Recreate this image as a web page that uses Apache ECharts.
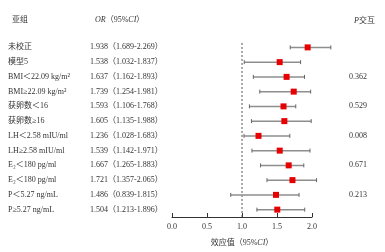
<!DOCTYPE html>
<html><head><meta charset="utf-8">
<script src="https://cdn.jsdelivr.net/npm/echarts@6/dist/echarts.min.js"></script>
<style>html,body{margin:0;padding:0;background:#fff}#c{width:385px;height:252px}</style>
</head><body><div id="c"></div>
<script>
const subgroups = ['未校正','模型5','BMI＜22.09 kg/m²','BMI≥22.09 kg/m²','获卵数＜16','获卵数≥16','LH＜2.58 mIU/ml','LH≥2.58 mIU/ml','E₂＜180 pg/ml','E₂＜180 pg/ml','P＜5.27 ng/mL','P≥5.27 ng/mL'];
const orValues = [1.938,1.538,1.637,1.739,1.593,1.605,1.236,1.539,1.667,1.721,1.486,1.504];
const ciLower = [1.689,1.032,1.162,1.254,1.106,1.135,1.028,1.142,1.265,1.357,0.839,1.213];
const ciUpper = [2.269,1.837,1.893,1.981,1.768,1.988,1.683,1.971,1.883,2.065,1.815,1.896];
const pInteraction = ['','','0.362','','0.529','','0.008','','0.671','','0.213',''];
const xTicks = [0, 0.5, 1.0, 1.5, 2.0];
const refLine = 1.0;

const FONT = '"Liberation Serif", "Noto Sans CJK SC", serif';
const TXT = '#333';
const rows = subgroups.map((s,i)=>i);
const orText = orValues.map((v,i)=> v.toFixed(3)+'（'+ciLower[i].toFixed(3)+'-'+ciUpper[i].toFixed(3)+'）');
const base = {fontFamily:FONT,fontSize:8,color:TXT,fontWeight:'normal'};

const chart = echarts.init(document.getElementById('c'), null, {renderer:'canvas'});
chart.setOption({
  animation:false,
  backgroundColor:'#fff',
  title:[
    {left:7, top:11, text:'{a|亚组}{b|OR}{c|（95%}{b|CI}{c|）}',
     textStyle:{fontWeight:'normal', rich:{
       a:Object.assign({},base,{width:83}),
       b:Object.assign({},base,{fontStyle:'italic'}),
       c:base}}},
    {left:349, top:12, text:'{b|P}{c|交互}',
     textStyle:{fontWeight:'normal', rich:{
       b:Object.assign({},base,{fontStyle:'italic'}),
       c:base}}}
  ],
  grid:{left:172, right:73, top:40, bottom:32.5, containLabel:false},
  xAxis:{type:'value', min:xTicks[0], max:xTicks[xTicks.length-1], interval:0.5,
    splitLine:{show:false},
    axisLine:{show:true, onZero:false, lineStyle:{color:'#333', width:1}},
    axisTick:{show:true, inside:true, length:4, lineStyle:{color:'#333'}},
    axisLabel:{fontFamily:FONT, fontSize:8, color:TXT, margin:6, formatter:v=>v.toFixed(1)},
    name:'效应值（95%{i|CI}）', nameLocation:'middle', nameGap:22,
    nameTextStyle:{fontFamily:FONT, fontSize:8, color:TXT,
      rich:{i:Object.assign({},base,{fontStyle:'italic'})}}},
  yAxis:[
    {type:'value', min:0, max:12, inverse:true, show:false},
    {type:'category', data:rows, inverse:true, position:'left',
      axisLine:{show:false}, axisTick:{show:false}, splitLine:{show:false},
      axisLabel:{align:'left', margin:164, interval:0,
        formatter:(v)=>'{n|'+subgroups[v]+'}{o|'+orText[v]+'}',
        rich:{n:Object.assign({},base,{width:82}), o:base}}},
    {type:'category', data:rows, inverse:true, position:'right',
      axisLine:{show:false}, axisTick:{show:false}, splitLine:{show:false},
      axisLabel:{align:'left', margin:37, interval:0, fontFamily:FONT, fontSize:8, color:TXT,
        formatter:(v)=>pInteraction[v]}}
  ],
  series:[
    {type:'line', yAxisIndex:0, data:[[refLine,0.2],[refLine,12]], symbol:'none', silent:true,
     lineStyle:{color:'#555', width:1, type:[2,2]}, z:1},
    {type:'custom', yAxisIndex:0, clip:false, z:3,
     data: rows.map(i=>[orValues[i], ciLower[i], ciUpper[i], i+0.5]),
     renderItem:(params, api)=>{
       const y = api.value(3);
       const pL = api.coord([api.value(1), y]);
       const pU = api.coord([api.value(2), y]);
       const pM = api.coord([api.value(0), y]);
       const s = 6, c = 2;
       return {type:'group', children:[
         {type:'line', shape:{x1:pL[0],y1:pL[1],x2:pU[0],y2:pU[1]}, style:{stroke:'#8e8e8e', lineWidth:1.5}},
         {type:'line', shape:{x1:pL[0],y1:pL[1]-c,x2:pL[0],y2:pL[1]+c}, style:{stroke:'#666', lineWidth:1}},
         {type:'line', shape:{x1:pU[0],y1:pU[1]-c,x2:pU[0],y2:pU[1]+c}, style:{stroke:'#666', lineWidth:1}},
         {type:'rect', shape:{x:pM[0]-s/2, y:pM[1]-s/2, width:s, height:s}, style:{fill:'#e60000'}}
       ]};
     }}
  ]
});
</script></body></html>
